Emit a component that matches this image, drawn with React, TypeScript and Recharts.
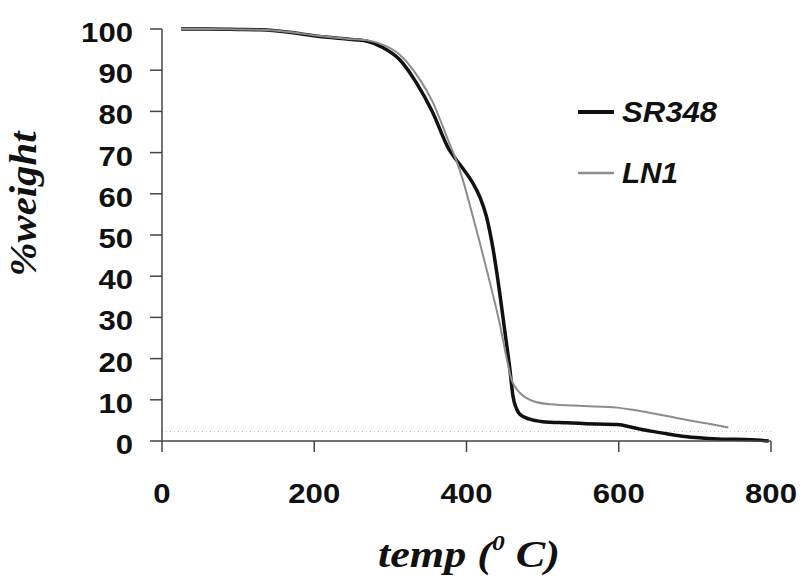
import React from "react";
import {
  LineChart,
  Line,
  XAxis,
  YAxis,
  Legend,
  ReferenceLine,
} from "recharts";

// temperature (deg C) and weight (%)
const sr348Temp = [25, 60, 100, 130, 167, 202, 246, 268, 290, 312, 334, 355, 377, 386, 395, 408, 418, 426, 435, 443, 450, 457, 461, 466, 470, 483, 500, 532, 570, 598, 620, 642, 665, 687, 731, 775, 797];
const sr348Weight = [100, 100, 99.9, 99.8, 99.2, 98.3, 97.5, 97.1, 95.5, 92.6, 87, 80, 70.8, 68.4, 66.2, 62.7, 59, 54.6, 46.5, 36.8, 27.1, 17.4, 10.9, 7.7, 6.5, 5.3, 4.7, 4.4, 4.1, 4.0, 3.2, 2.4, 1.7, 1.1, 0.5, 0.3, 0];

const ln1Temp = [25, 60, 100, 130, 167, 202, 246, 268, 290, 312, 334, 355, 377, 386, 395, 404, 417, 430, 443, 454, 459, 465, 470, 487, 510, 554, 598, 620, 642, 665, 687, 715, 744];
const ln1Weight = [100, 100, 99.9, 99.8, 99.3, 98.4, 97.6, 97.3, 96.2, 93.8, 89, 82.5, 72.5, 68.4, 63.5, 57.5, 48.5, 39, 29, 19, 15, 12.8, 11.7, 9.7, 8.9, 8.5, 8.1, 7.5, 6.8, 6.0, 5.2, 4.3, 3.3];

const xTicks = [0, 200, 400, 600, 800];
const yTicks = [0, 10, 20, 30, 40, 50, 60, 70, 80, 90, 100];

const sr348 = sr348Temp.map((t, i) => ({ t, w: sr348Weight[i] }));
const ln1 = ln1Temp.map((t, i) => ({ t, w: ln1Weight[i] }));

const tickFont = "'Liberation Sans', Arial, sans-serif";
const serif = "'Liberation Serif', 'Times New Roman', serif";

const YTick = ({ x, y, payload }: any) => {
  const s = String(payload.value);
  return (
    <text
      x={x}
      y={y + 13}
      textAnchor="end"
      fontFamily={tickFont}
      fontWeight="bold"
      fontSize={28}
      fill="#111"
      textLength={s.length * 17.3}
      lengthAdjust="spacingAndGlyphs"
    >
      {s}
    </text>
  );
};

const XTick = ({ x, payload }: any) => {
  const s = String(payload.value);
  return (
    <text
      x={x}
      y={503}
      textAnchor="middle"
      fontFamily={tickFont}
      fontWeight="bold"
      fontSize={28}
      fill="#111"
      textLength={s.length * 17.3}
      lengthAdjust="spacingAndGlyphs"
    >
      {s}
    </text>
  );
};

const legendRows: Record<string, { y: number; len: number }> = {
  SR348: { y: 22, len: 95 },
  LN1: { y: 83, len: 56 },
};

// legend is drawn in a zero-size wrapper so it doesn't steal plot space
const renderLegend = (props: any) => (
  <svg width={180} height={110} style={{ position: "absolute", left: 0, top: 0, overflow: "visible" }}>
    {(props.payload || []).map((p: any) => {
      const row = legendRows[p.value];
      return (
        <g key={p.value}>
          <line
            x1={8}
            x2={44}
            y1={row.y}
            y2={row.y}
            stroke={p.color}
            strokeWidth={p.value === "SR348" ? 4 : 2.5}
          />
          <text
            x={52}
            y={row.y + 10}
            fontFamily={tickFont}
            fontWeight="bold"
            fontStyle="italic"
            fontSize={30}
            fill="#111"
            textLength={row.len}
            lengthAdjust="spacingAndGlyphs"
          >
            {p.value}
          </text>
        </g>
      );
    })}
  </svg>
);

export default function App() {
  return (
    <div style={{ position: "absolute", left: 0, top: 0, background: "#fff" }}>
      <LineChart width={802} height={576} margin={{ top: 29, right: 31, left: 0, bottom: 0 }}>
        <XAxis
          type="number"
          dataKey="t"
          domain={[0, 800]}
          ticks={xTicks}
          allowDataOverflow
          height={135}
          tickSize={11}
          stroke="#444"
          strokeWidth={1.5}
          tick={<XTick />}
          label={() => (
            <text
              x={469}
              y={567}
              textAnchor="middle"
              fontFamily={serif}
              fontWeight="bold"
              fontStyle="italic"
              fontSize={38}
              fill="#111"
              textLength={182}
              lengthAdjust="spacingAndGlyphs"
            >
              temp (
              <tspan fontSize={22} dy={-17}>0</tspan>
              <tspan dy={17}> C)</tspan>
            </text>
          )}
        />
        <YAxis
          type="number"
          dataKey="w"
          domain={[0, 100]}
          ticks={yTicks}
          width={162}
          tickSize={12}
          tickMargin={17}
          stroke="#444"
          strokeWidth={1.5}
          tick={<YTick />}
          label={() => (
            <text
              x={36}
              y={204}
              transform="rotate(-90, 36, 204)"
              textAnchor="middle"
              fontFamily={serif}
              fontWeight="bold"
              fontStyle="italic"
              fontSize={38}
              fill="#111"
              textLength={145}
              lengthAdjust="spacingAndGlyphs"
            >
              %weight
            </text>
          )}
        />
        <ReferenceLine y={2.3} stroke="#c4c4c4" strokeDasharray="1 3" strokeWidth={1} />
        <Line
          data={sr348}
          dataKey="w"
          name="SR348"
          type="monotone"
          stroke="#111"
          strokeWidth={3.5}
          dot={false}
          isAnimationActive={false}
        />
        <Line
          data={ln1}
          dataKey="w"
          name="LN1"
          type="monotone"
          stroke="#8c8c8c"
          strokeWidth={2}
          dot={false}
          isAnimationActive={false}
        />
        <Legend
          content={renderLegend}
          wrapperStyle={{ position: "absolute", left: 570, top: 90, width: 0, height: 0, overflow: "visible" }}
        />
      </LineChart>
    </div>
  );
}
